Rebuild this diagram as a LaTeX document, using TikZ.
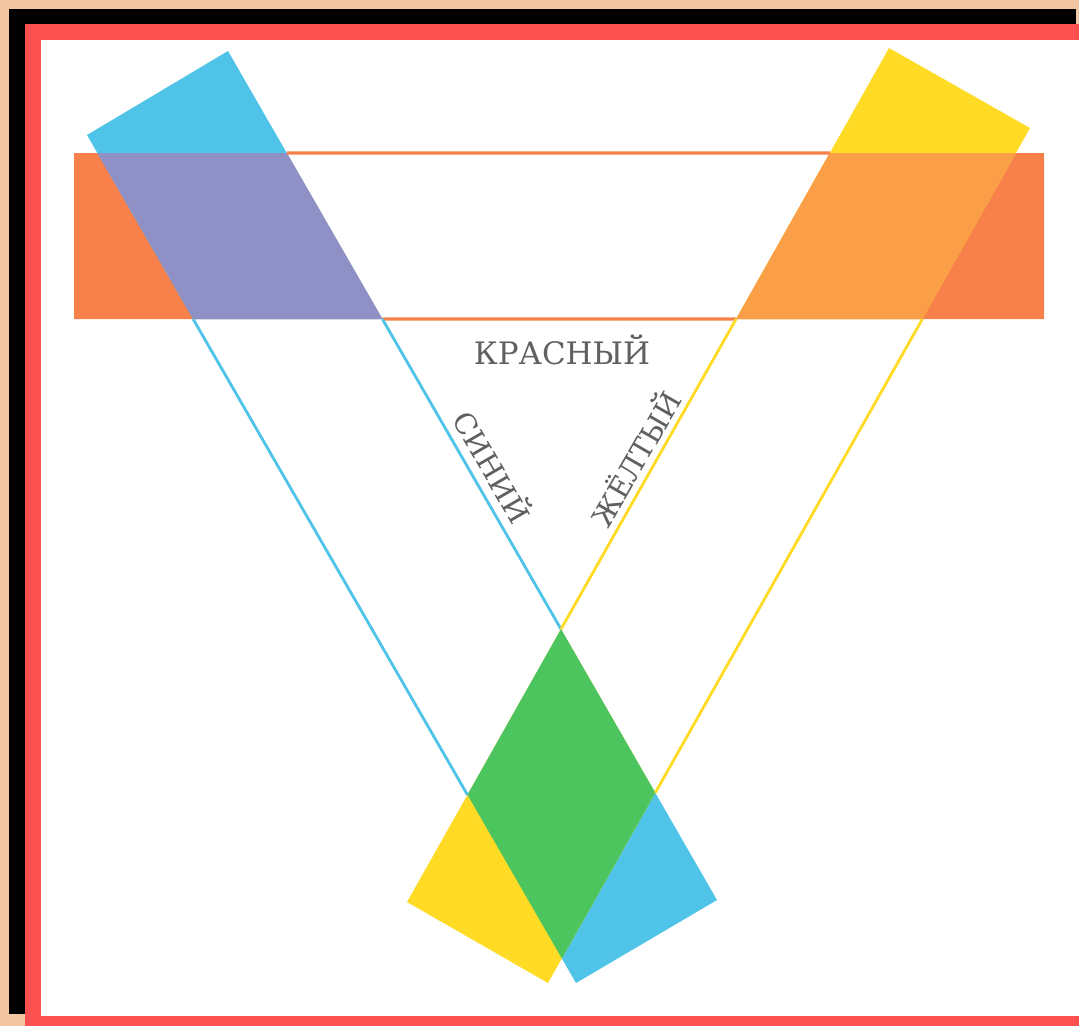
\documentclass[tikz,border=0pt]{standalone}
\usepackage{fontspec}
\setmainfont{DejaVu Serif}
\usepackage{xcolor}
\definecolor{framepeach}{HTML}{F3C6A2}
\definecolor{framered}{HTML}{FD5050}
\definecolor{filmblue}{HTML}{4FC4E8}
\definecolor{filmyellow}{HTML}{FFDB25}
\definecolor{filmred}{HTML}{F8804A}
\definecolor{mixpurple}{HTML}{8F90C6}
\definecolor{mixorange}{HTML}{FA9E48}
\definecolor{mixgreen}{HTML}{4DC55E}
\definecolor{labelgray}{HTML}{606060}
\tikzset{
  edgeblue/.style={draw=filmblue,line width=2pt},
  edgeyellow/.style={draw=filmyellow,line width=2pt},
  edgered/.style={draw=filmred,line width=2.2pt},
  colourlabel/.style={text=labelgray,font=\fontsize{20.5}{24}\selectfont,inner sep=0pt}
}
\begin{document}
\begin{tikzpicture}[x=0.025cm,y=-0.025cm]
\useasboundingbox (0,0) rectangle (1079,1026);
% frame
\fill[framepeach] (0,0) rectangle (1079,1026);
\fill[black] (9,9) rectangle (1076,1014);
\fill[framered] (25,24) rectangle (1079,1026);
\fill[white] (41,40) rectangle (1079,1016);
% corners of the three films
\coordinate (r1) at (74,153);
\coordinate (r2) at (1044,153);
\coordinate (r3) at (1044,319);
\coordinate (r4) at (74,319);
\coordinate (b1) at (87,135);
\coordinate (b2) at (228,51);
\coordinate (b3) at (717,900);
\coordinate (b4) at (576,983);
\coordinate (y1) at (889,48);
\coordinate (y2) at (1030,128);
\coordinate (y3) at (548,983);
\coordinate (y4) at (407,902);
% crossings of the edges
\coordinate (bLt) at (intersection of b1--b4 and r1--r2);
\coordinate (bRt) at (intersection of b2--b3 and r1--r2);
\coordinate (bLb) at (intersection of b1--b4 and r4--r3);
\coordinate (bRb) at (intersection of b2--b3 and r4--r3);
\coordinate (yLt) at (intersection of y1--y4 and r1--r2);
\coordinate (yRt) at (intersection of y2--y3 and r1--r2);
\coordinate (yLb) at (intersection of y1--y4 and r4--r3);
\coordinate (yRb) at (intersection of y2--y3 and r4--r3);
\coordinate (gT) at (intersection of b2--b3 and y1--y4);
\coordinate (gL) at (intersection of b1--b4 and y1--y4);
\coordinate (gR) at (intersection of b2--b3 and y2--y3);
\coordinate (gB) at (intersection of b1--b4 and y2--y3);
% filled ends
\fill[filmred] (r1) -- (bRt) -- (bRb) -- (r4) -- cycle;
\fill[filmred] (yLt) -- (r2) -- (r3) -- (yLb) -- cycle;
\fill[filmblue] (b1) -- (b2) -- (bRb) -- (bLb) -- cycle;
\fill[filmyellow] (y1) -- (y2) -- (yRb) -- (yLb) -- cycle;
\fill[filmblue] (gL) -- (gT) -- (b3) -- (b4) -- cycle;
\fill[filmyellow] (gT) -- (gR) -- (y3) -- (y4) -- cycle;
% overlaps
\fill[mixpurple] (bLt) -- (bRt) -- (bRb) -- (bLb) -- cycle;
\fill[mixorange] (yLt) -- (yRt) -- (yRb) -- (yLb) -- cycle;
\fill[mixgreen] (gT) -- (gR) -- (gB) -- (gL) -- cycle;
% edges of the open middle parts
\draw[edgered] (bRt) -- (yLt);
\draw[edgered] (bRb) -- (yLb);
\draw[edgeblue] (bLb) -- (gL);
\draw[edgeblue] (bRb) -- (gT);
\draw[edgeyellow] (yRb) -- (gR);
\draw[edgeyellow] (yLb) -- (gT);
% labels
\node[colourlabel,font=\fontsize{22}{24}\selectfont] (lred) at (562,350) {КРАСНЫЙ};
\node[colourlabel,rotate=-60] (lblue) at (494,466) {СИНИЙ};
\node[colourlabel,rotate=60] (lyellow) at (634,458) {ЖЁЛТЫЙ};
\end{tikzpicture}
\end{document}
